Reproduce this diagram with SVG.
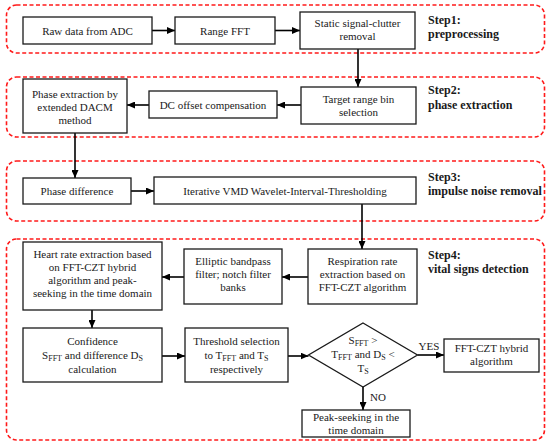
<svg xmlns="http://www.w3.org/2000/svg" width="550" height="444" viewBox="0 0 550 444">
<defs>
<marker id="arr" markerUnits="userSpaceOnUse" markerWidth="8" markerHeight="7" refX="8" refY="3.5" orient="auto">
<path d="M0,0 L8,3.5 L0,7 z" fill="#000"/>
</marker>
<style>
.step{fill:none;stroke:#ff1a1a;stroke-width:1.6;stroke-dasharray:4 2.5}
.box{fill:#fff;stroke:#1a1a1a;stroke-width:1.3}
.t{font-family:"Liberation Serif","Times New Roman",serif;font-size:11px;fill:#1a1a1a;text-anchor:middle}
.lbl{font-family:"Liberation Serif","Times New Roman",serif;font-size:12px;font-weight:bold;fill:#1a1a1a}
.c{fill:none;stroke:#000;stroke-width:1.6;marker-end:url(#arr)}
.sub{font-size:8px}
</style>
</defs>
<rect width="550" height="444" fill="#fff"/>
<g id="steps">
<rect class="step" x="6.5" y="5" width="538" height="48" rx="10"/>
<rect class="step" x="6.5" y="77" width="538" height="60" rx="10"/>
<rect class="step" x="6.5" y="161" width="538" height="60" rx="10"/>
<rect class="step" x="6.5" y="239" width="538" height="201" rx="10"/>
<text class="lbl" x="428" y="24">Step1:</text>
<text class="lbl" x="428" y="38">preprocessing</text>
<text class="lbl" x="428" y="94">Step2:</text>
<text class="lbl" x="428" y="109">phase extraction</text>
<text class="lbl" x="428" y="181">Step3:</text>
<text class="lbl" x="428" y="195">impulse noise removal</text>
<text class="lbl" x="428" y="259">Step4:</text>
<text class="lbl" x="428" y="273">vital signs detection</text>
</g>
<g id="connectors">
<line class="c" x1="152" y1="30.5" x2="175" y2="30.5"/>
<line class="c" x1="275" y1="30.5" x2="300" y2="30.5"/>
<line class="c" x1="358" y1="49" x2="358" y2="87"/>
<line class="c" x1="301" y1="105" x2="277" y2="105"/>
<line class="c" x1="149" y1="105" x2="127" y2="105"/>
<line class="c" x1="75" y1="133" x2="75" y2="178"/>
<line class="c" x1="131" y1="191" x2="154" y2="191"/>
<line class="c" x1="362" y1="204" x2="362" y2="249"/>
<line class="c" x1="308" y1="277" x2="282" y2="277"/>
<line class="c" x1="184" y1="277" x2="162" y2="277"/>
<line class="c" x1="92" y1="310" x2="92" y2="328"/>
<line class="c" x1="162" y1="356" x2="185" y2="356"/>
<line class="c" x1="288" y1="356" x2="308.5" y2="356"/>
<line class="c" x1="417.5" y1="355" x2="444" y2="355"/>
<line class="c" x1="363" y1="387" x2="363" y2="410"/>
<text class="t" x="429" y="350">YES</text>
<text class="t" x="378" y="401">NO</text>
</g>
<g id="n1"><rect class="box" x="23" y="17" width="129" height="27"/><text class="t" x="87.5" y="34.5">Raw data from ADC</text></g>
<g id="n2"><rect class="box" x="175" y="17" width="100" height="27"/><text class="t" x="225" y="34.5">Range FFT</text></g>
<g id="n3"><rect class="box" x="300" y="12" width="115" height="37"/><text class="t" x="357.5" y="27">Static signal-clutter</text><text class="t" x="357.5" y="40">removal</text></g>
<g id="n4"><rect class="box" x="301" y="87" width="115" height="37"/><text class="t" x="358.5" y="103">Target range bin</text><text class="t" x="358.5" y="116">selection</text></g>
<g id="n5"><rect class="box" x="149" y="91" width="128" height="27"/><text class="t" x="213" y="108.5">DC offset compensation</text></g>
<g id="n6"><rect class="box" x="23" y="79" width="104" height="54"/><text class="t" x="75" y="98">Phase extraction by</text><text class="t" x="75" y="111">extended DACM</text><text class="t" x="75" y="124">method</text></g>
<g id="n7"><rect class="box" x="23" y="178" width="108" height="26"/><text class="t" x="77" y="195">Phase difference</text></g>
<g id="n8"><rect class="box" x="154" y="177" width="262" height="27"/><text class="t" x="285" y="195">Iterative VMD Wavelet-Interval-Thresholding</text></g>
<g id="n9"><rect class="box" x="308" y="249" width="109" height="55"/><text class="t" x="362.5" y="265">Respiration rate</text><text class="t" x="362.5" y="278">extraction based on</text><text class="t" x="362.5" y="291">FFT-CZT algorithm</text></g>
<g id="n10"><rect class="box" x="184" y="249" width="98" height="55"/><text class="t" x="233" y="265">Elliptic bandpass</text><text class="t" x="233" y="278">filter; notch filter</text><text class="t" x="233" y="291">banks</text></g>
<g id="n11"><rect class="box" x="23" y="242" width="139" height="68"/><text class="t" x="92.5" y="258">Heart rate extraction based</text><text class="t" x="92.5" y="271">on FFT-CZT hybrid</text><text class="t" x="92.5" y="284">algorithm and peak-</text><text class="t" x="92.5" y="297">seeking in the time domain</text></g>
<g id="n12"><rect class="box" x="23" y="328" width="139" height="54"/><text class="t" x="92.5" y="345">Confidence</text><text class="t" x="92.5" y="359">S<tspan class="sub" dy="2">FFT</tspan><tspan dy="-2"> and difference D</tspan><tspan class="sub" dy="2">S</tspan></text><text class="t" x="92.5" y="373">calculation</text></g>
<g id="n13"><rect class="box" x="185" y="328" width="103" height="54"/><text class="t" x="236.5" y="345">Threshold selection</text><text class="t" x="236.5" y="359">to T<tspan class="sub" dy="2">FFT</tspan><tspan dy="-2"> and T</tspan><tspan class="sub" dy="2">S</tspan></text><text class="t" x="236.5" y="373">respectively</text></g>
<g id="n14"><polygon class="box" points="363,323 417.5,355 363,387 308.5,355"/><text class="t" x="363" y="344">S<tspan class="sub" dy="2">FFT</tspan><tspan dy="-2"> &gt;</tspan></text><text class="t" x="363" y="358">T<tspan class="sub" dy="2">FFT</tspan><tspan dy="-2"> and D</tspan><tspan class="sub" dy="2">S</tspan><tspan dy="-2"> &lt;</tspan></text><text class="t" x="363" y="372">T<tspan class="sub" dy="2">S</tspan></text></g>
<g id="n15"><rect class="box" x="444" y="339" width="95" height="33"/><text class="t" x="491.5" y="352">FFT-CZT hybrid</text><text class="t" x="491.5" y="365">algorithm</text></g>
<g id="n16"><rect class="box" x="302" y="410" width="108" height="27"/><text class="t" x="356" y="421">Peak-seeking in the</text><text class="t" x="356" y="434">time domain</text></g>
</svg>
